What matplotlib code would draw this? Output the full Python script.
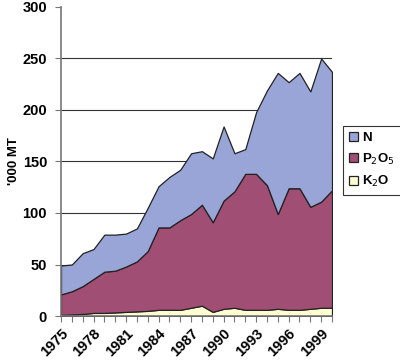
import matplotlib.pyplot as plt
import numpy as np

plt.rcParams['font.family'] = ['Liberation Sans', 'DejaVu Sans']

years = list(range(1975, 2001))

k2o = [1, 1.5, 2, 3, 3, 3.5, 4, 4.5, 5, 6, 6, 6, 8, 10, 4, 7, 8, 6, 6, 6, 7, 6, 6, 7, 8, 8]
# cumulative tops
p_top = [21, 24, 29, 36, 43, 44, 48, 53, 63, 86, 86, 93, 99, 108, 91, 112, 121, 138, 138, 127, 99, 124, 124, 106, 111, 122]
total = [49, 50, 61, 65, 79, 79, 80, 85, 105, 126, 135, 142, 158, 160, 153, 184, 158, 162, 198, 219, 236, 227, 236, 218, 250, 237]

p2o5 = np.array(p_top) - np.array(k2o)
n = np.array(total) - np.array(p_top)

colors = ['#FFFFD2', '#A14E74', '#99A4D7']
labels = ['K$_2$O', 'P$_2$O$_5$', 'N']

fig = plt.figure(figsize=(4, 3.6), dpi=100)
ax = fig.add_axes([0.1525, 0.1222, 0.6775, 0.8584])

ax.stackplot(years, k2o, p2o5, n, colors=colors, labels=labels,
             edgecolor='#222222', linewidth=0.9, zorder=2)

for y in [50, 100, 150, 200, 250]:
    ax.axhline(y, color='#333333', linewidth=0.8, zorder=1)

ax.set_xlim(1975, 2000)
ax.set_ylim(0, 300)
ax.set_yticks(range(0, 301, 50))
ax.set_xticks(range(1975, 2001, 3))
ax.set_xticks(years, minor=True)

for lab in ax.get_xticklabels():
    lab.set_rotation(45)
    lab.set_ha('right')
    lab.set_rotation_mode('anchor')

ax.tick_params(axis='both', labelsize=10.5, color='#777777', length=4, width=0.8)
ax.tick_params(axis='x', which='minor', length=4, color='#777777', width=0.8)
ax.tick_params(axis='y', pad=6)
for lab in ax.get_xticklabels() + ax.get_yticklabels():
    lab.set_fontweight('bold')

for side in ['top', 'right']:
    ax.spines[side].set_visible(False)
for side in ['left', 'bottom']:
    ax.spines[side].set_color('#777777')
    ax.spines[side].set_linewidth(1.2)

ax.set_ylabel("'000 MT", fontsize=9.5, fontweight='bold', labelpad=2)

handles, labs = ax.get_legend_handles_labels()
leg = fig.legend(handles[::-1], labs[::-1], loc='upper left',
                 bbox_to_anchor=(0.858, 0.65), frameon=True, fancybox=False,
                 edgecolor='black', handlelength=0.7, handleheight=0.7,
                 handletextpad=0.3, labelspacing=0.55, borderpad=0.45,
                 borderaxespad=0, prop={'weight': 'bold', 'size': 9.5})
leg.get_frame().set_linewidth(0.8)

fig.savefig('out.png', dpi=100)
